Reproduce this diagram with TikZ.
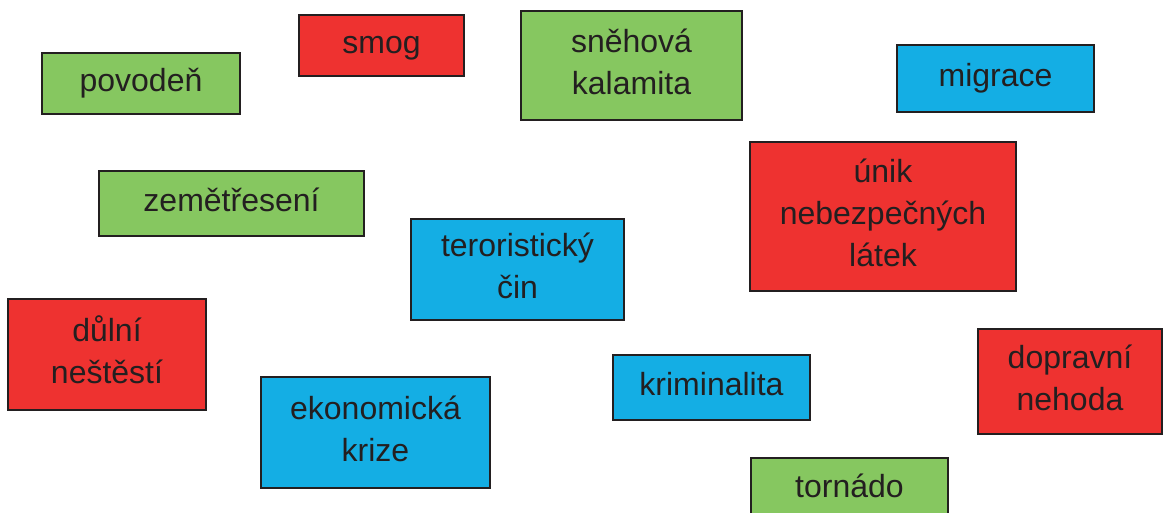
\documentclass[tikz,border=0pt]{standalone}
\usepackage{fontspec}
\setmainfont{Liberation Sans}
\definecolor{bgreen}{RGB}{134,199,96}
\definecolor{bred}{RGB}{238,50,48}
\definecolor{bblue}{RGB}{20,174,228}
\definecolor{ink}{RGB}{35,31,32}
\tikzset{
  box/.style={draw=ink, line width=1.6pt, rectangle, inner sep=0pt, align=center,
    text=ink, font=\fontsize{32}{42}\selectfont},
  gbox/.style={box, fill=bgreen},
  rbox/.style={box, fill=bred},
  bbox/.style={box, fill=bblue}
}
\begin{document}
\begin{tikzpicture}[x=1pt,y=-1pt]
\useasboundingbox (0,0) rectangle (1163,513);
\clip (0,0) rectangle (1163,513);
\node[gbox, minimum width=198pt, minimum height=61pt] (povoden) at (141,83.5) {\strut povodeň};
\node[rbox, minimum width=165pt, minimum height=61pt] (smog) at (381.5,45.5) {\strut smog};
\node[gbox, minimum width=221pt, minimum height=109pt] (snehova) at (631.5,65.5) {\strut sněhová\\\strut kalamita};
\node[bbox, minimum width=197pt, minimum height=67pt] (migrace) at (995.5,78.5) {\strut migrace};
\node[gbox, minimum width=265pt, minimum height=65pt] (zeme) at (231.5,203.5) {\strut zemětřesení};
\node[bbox, minimum width=213pt, minimum height=101pt] (teror) at (517.5,269.5) {\strut teroristický\\\strut čin};
\node[rbox, minimum width=266pt, minimum height=149pt] (unik) at (883,216.5) {\strut únik\\\strut nebezpečných\\\strut látek};
\node[rbox, minimum width=198pt, minimum height=111pt] (dulni) at (107,354.5) {\strut důlní\\\strut neštěstí};
\node[bbox, minimum width=229pt, minimum height=111pt] (ekon) at (375.5,432.5) {\strut ekonomická\\\strut krize};
\node[bbox, minimum width=197pt, minimum height=65pt] (krim) at (711.5,387.5) {\strut kriminalita};
\node[rbox, minimum width=184pt, minimum height=105pt] (doprav) at (1070,381.5) {\strut dopravní\\\strut nehoda};
\node[gbox, minimum width=197pt, minimum height=62pt] (tornado) at (849.5,489) {\strut tornádo};
\end{tikzpicture}
\end{document}
